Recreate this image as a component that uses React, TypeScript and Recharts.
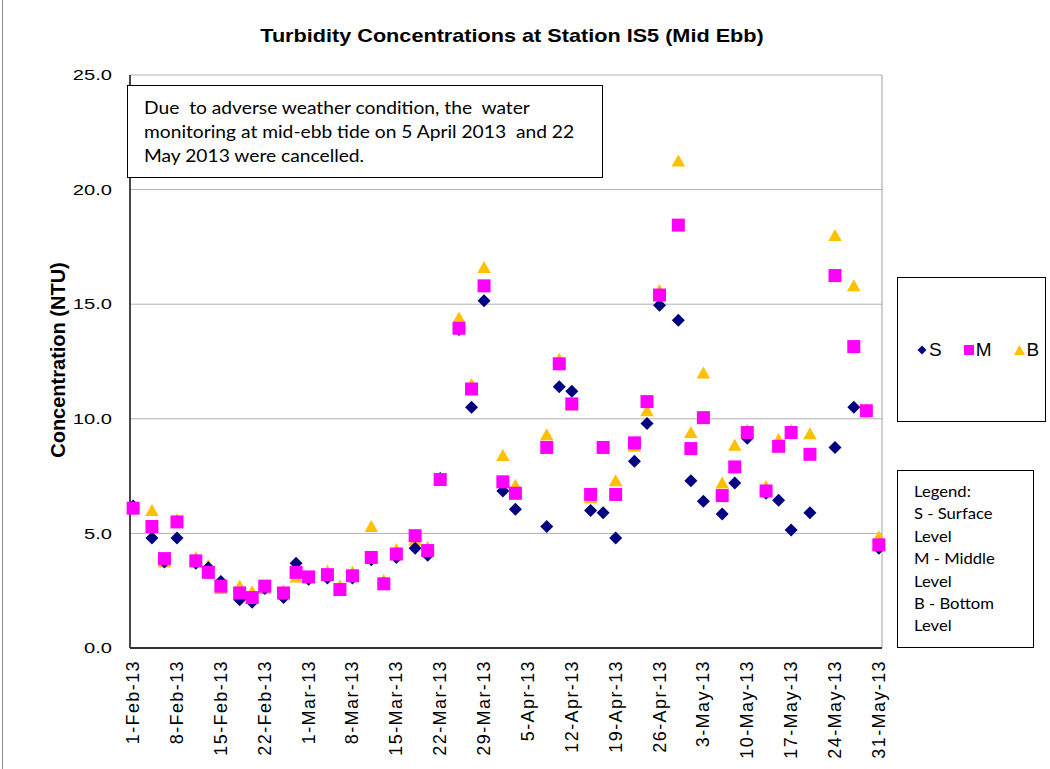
import { ScatterChart, Scatter, XAxis, YAxis, CartesianGrid, ReferenceLine } from "recharts";

// Sampling dates (mid-ebb). 5-Apr and 22-May were cancelled.
const sampleDates = [
  "2013-02-01", "2013-02-04", "2013-02-06", "2013-02-08", "2013-02-11", "2013-02-13",
  "2013-02-15", "2013-02-18", "2013-02-20", "2013-02-22", "2013-02-25", "2013-02-27",
  "2013-03-01", "2013-03-04", "2013-03-06", "2013-03-08", "2013-03-11", "2013-03-13",
  "2013-03-15", "2013-03-18", "2013-03-20", "2013-03-22", "2013-03-25", "2013-03-27",
  "2013-03-29", "2013-04-01", "2013-04-03", "2013-04-08", "2013-04-10", "2013-04-12",
  "2013-04-15", "2013-04-17", "2013-04-19", "2013-04-22", "2013-04-24", "2013-04-26",
  "2013-04-29", "2013-05-01", "2013-05-03", "2013-05-06", "2013-05-08", "2013-05-10",
  "2013-05-13", "2013-05-15", "2013-05-17", "2013-05-20", "2013-05-24", "2013-05-27",
  "2013-05-29", "2013-05-31",
];

// Turbidity (NTU) by depth
const surface = [
  6.2, 4.8, 3.75, 4.8, 3.7, 3.5, 2.9, 2.1, 2.0, 2.6, 2.2, 3.7,
  3.0, 3.05, 2.55, 3.05, 3.85, 2.8, 3.95, 4.35, 4.05, 7.4, 13.9, 10.5,
  15.15, 6.85, 6.05, 5.3, 11.4, 11.2, 6.0, 5.9, 4.8, 8.15, 9.8, 14.95,
  14.3, 7.3, 6.4, 5.85, 7.2, 9.15, 6.75, 6.45, 5.15, 5.9, 8.75, 10.5,
  10.35, 4.35,
];
const middle = [
  6.1, 5.3, 3.9, 5.5, 3.8, 3.3, 2.7, 2.4, 2.2, 2.7, 2.4, 3.3,
  3.1, 3.2, 2.55, 3.15, 3.95, 2.8, 4.1, 4.9, 4.25, 7.35, 13.95, 11.3,
  15.8, 7.25, 6.75, 8.75, 12.4, 10.65, 6.7, 8.75, 6.7, 8.95, 10.75, 15.4,
  18.45, 8.7, 10.05, 6.65, 7.9, 9.4, 6.85, 8.8, 9.4, 8.45, 16.25, 13.15,
  10.35, 4.5,
];
const bottom = [
  6.1, 6.0, 3.75, 5.6, 3.95, 3.6, 2.6, 2.7, 2.45, 2.6, 2.5, 3.1,
  3.1, 3.35, 2.7, 3.3, 5.3, 2.95, 4.3, 4.7, 4.4, 7.4, 14.4, 11.5,
  16.6, 8.4, 7.1, 9.3, 12.6, 10.6, 6.55, 8.7, 7.3, 8.8, 10.35, 15.6,
  21.25, 9.4, 12.0, 7.2, 8.85, 9.5, 7.05, 9.1, 9.5, 9.35, 18.0, 15.8,
  10.4, 4.85,
];

const tickLabels = [
  "1-Feb-13", "8-Feb-13", "15-Feb-13", "22-Feb-13", "1-Mar-13", "8-Mar-13",
  "15-Mar-13", "22-Mar-13", "29-Mar-13", "5-Apr-13", "12-Apr-13", "19-Apr-13",
  "26-Apr-13", "3-May-13", "10-May-13", "17-May-13", "24-May-13", "31-May-13",
];
const yTicks = [0, 5, 10, 15, 20, 25];

const MONTHS = ["Jan", "Feb", "Mar", "Apr", "May", "Jun", "Jul", "Aug", "Sep", "Oct", "Nov", "Dec"];
const DAY0 = Date.UTC(2013, 1, 1);
const MS_DAY = 86400000;

const isoToDay = (iso: string) => {
  const [y, m, d] = iso.split("-").map(Number);
  return (Date.UTC(y, m - 1, d) - DAY0) / MS_DAY;
};
const labelToDay = (label: string) => {
  const [d, mon, yy] = label.split("-");
  return (Date.UTC(2000 + Number(yy), MONTHS.indexOf(mon), Number(d)) - DAY0) / MS_DAY;
};

const xTicks = tickLabels.map(labelToDay);
const labelByDay: Record<number, string> = {};
tickLabels.forEach((l, i) => (labelByDay[xTicks[i]] = l));

const toPoints = (values: number[]) =>
  values.map((v, i) => ({ day: isoToDay(sampleDates[i]), value: v }));

const sData = toPoints(surface);
const mData = toPoints(middle);
const bData = toPoints(bottom);

const NAVY = "#000080";
const MAGENTA = "#FF00FF";
const GOLD = "#FFC000";

const Diamond = (props: any) => {
  const { cx, cy } = props;
  const r = 6.5;
  return (
    <polygon
      points={`${cx},${cy - r} ${cx + r},${cy} ${cx},${cy + r} ${cx - r},${cy}`}
      fill={NAVY}
    />
  );
};
const Square = (props: any) => {
  const { cx, cy } = props;
  return <rect x={cx - 6.5} y={cy - 6.5} width={13} height={13} fill={MAGENTA} />;
};
const Triangle = (props: any) => {
  const { cx, cy } = props;
  return (
    <polygon
      points={`${cx},${cy - 6.5} ${cx + 6.8},${cy + 5.5} ${cx - 6.8},${cy + 5.5}`}
      fill={GOLD}
    />
  );
};

const XTick = (props: any) => {
  const { x, y, payload } = props;
  return (
    <g transform={`translate(${x},${y})`}>
      <text
        transform="rotate(-90)"
        x={-12}
        y={0}
        textAnchor="end"
        dominantBaseline="central"
        fontSize={18}
        letterSpacing={1.4}
        fill="#000"
        fontFamily="'Liberation Sans', Arial, sans-serif"
      >
        {labelByDay[payload.value]}
      </text>
    </g>
  );
};

const YTick = (props: any) => {
  const { x, y, payload } = props;
  return (
    <g transform={`translate(${x},${y}) scale(1.3,1)`}>
      <text
        x={0}
        y={0}
        textAnchor="end"
        dominantBaseline="central"
        fontSize={15.5}
        fill="#000"
        fontFamily="'Liberation Sans', Arial, sans-serif"
      >
        {Number(payload.value).toFixed(1)}
      </text>
    </g>
  );
};

const boxStyle: React.CSSProperties = {
  position: "absolute",
  background: "#fff",
  border: "1.5px solid #000",
  boxSizing: "border-box",
};

const noteLines = [
  "Due  to adverse weather condition, the  water",
  "monitoring at mid-ebb tide on 5 April 2013  and 22",
  "May 2013 were cancelled.",
];
const legendLines = ["Legend:", "S - Surface", "Level", "M - Middle", "Level", "B - Bottom", "Level"];

export default function App() {
  return (
    <div
      style={{
        position: "absolute",
        left: 0,
        top: 0,
        width: 1050,
        height: 769,
        background: "#fff",
        fontFamily: "'Liberation Sans', Arial, sans-serif",
        overflow: "hidden",
      }}
    >
      <ScatterChart width={1050} height={769} margin={{ top: 75, right: 168, bottom: 21, left: 50 }}>
        <CartesianGrid horizontal vertical={false} stroke="#b0b0b0" />
        <XAxis
          type="number"
          dataKey="day"
          domain={[-0.5, 119.5]}
          ticks={xTicks}
          interval={0}
          height={100}
          tickLine={false}
          tickSize={0}
          tickMargin={0}
          axisLine={{ stroke: "#333", strokeWidth: 1.8 }}
          tick={<XTick />}
        />
        <YAxis
          type="number"
          dataKey="value"
          domain={[0, 25]}
          ticks={yTicks}
          interval={0}
          width={80}
          tickLine={false}
          tickSize={0}
          tickMargin={18}
          axisLine={{ stroke: "#333", strokeWidth: 1.8 }}
          tick={<YTick />}
        />
        <ReferenceLine x={119.5} stroke="#a0a0a0" />
        <Scatter name="B" data={bData} shape={<Triangle />} isAnimationActive={false} />
        <Scatter name="S" data={sData} shape={<Diamond />} isAnimationActive={false} />
        <Scatter name="M" data={mData} shape={<Square />} isAnimationActive={false} />
      </ScatterChart>

      {/* chart frame edge on the left */}
      <div style={{ position: "absolute", left: 2, top: 0, width: 1, height: 769, background: "#8c8c8c" }} />

      {/* title */}
      <div
        style={{
          position: "absolute",
          left: 512,
          top: 36,
          transform: "translate(-50%,-50%) scaleX(1.17)",
          fontWeight: "bold",
          fontSize: 18.5,
          whiteSpace: "nowrap",
        }}
      >
        Turbidity Concentrations at Station IS5 (Mid Ebb)
      </div>

      {/* y axis title */}
      <div
        style={{
          position: "absolute",
          left: 58,
          top: 360,
          transform: "translate(-50%,-50%) rotate(-90deg)",
          fontWeight: "bold",
          fontSize: 20,
          whiteSpace: "nowrap",
        }}
      >
        Concentration (NTU)
      </div>

      {/* note box */}
      <div
        style={{
          ...boxStyle,
          left: 127,
          top: 85,
          width: 476,
          height: 93,
          padding: "10px 0 0 16px",
          fontFamily: "Lato, 'Open Sans', sans-serif",
          fontSize: 17,
          lineHeight: "24px",
          whiteSpace: "pre",
        }}
      >
        {noteLines.map((l) => (
          <div key={l} style={{ transform: "scaleX(1.13)", transformOrigin: "left center" }}>
            {l}
          </div>
        ))}
      </div>

      {/* series legend */}
      <div style={{ ...boxStyle, left: 897, top: 277, width: 149, height: 145 }}>
        <div
          style={{
            position: "absolute",
            left: 19,
            top: 72,
            transform: "translateY(-50%)",
            display: "flex",
            alignItems: "center",
            fontSize: 19,
            whiteSpace: "nowrap",
          }}
        >
          <svg width={10} height={10}>
            <polygon points="5,0.5 9.5,5 5,9.5 0.5,5" fill={NAVY} />
          </svg>
          <span style={{ marginLeft: 2, marginRight: 22 }}>S</span>
          <svg width={10} height={10}>
            <rect x={0} y={0} width={10} height={10} fill={MAGENTA} />
          </svg>
          <span style={{ marginLeft: 2, marginRight: 22 }}>M</span>
          <svg width={11} height={10}>
            <polygon points="5.5,0 11,10 0,10" fill={GOLD} />
          </svg>
          <span style={{ marginLeft: 2 }}>B</span>
        </div>
      </div>

      {/* text legend */}
      <div
        style={{
          ...boxStyle,
          left: 897,
          top: 470,
          width: 137,
          height: 178,
          padding: "9px 0 0 16px",
          fontFamily: "Lato, 'Open Sans', sans-serif",
          fontSize: 16,
          lineHeight: "22.4px",
          whiteSpace: "pre",
        }}
      >
        {legendLines.map((l, i) => (
          <div key={i} style={{ transform: "scaleX(1.04)", transformOrigin: "left center" }}>
            {l}
          </div>
        ))}
      </div>
    </div>
  );
}
